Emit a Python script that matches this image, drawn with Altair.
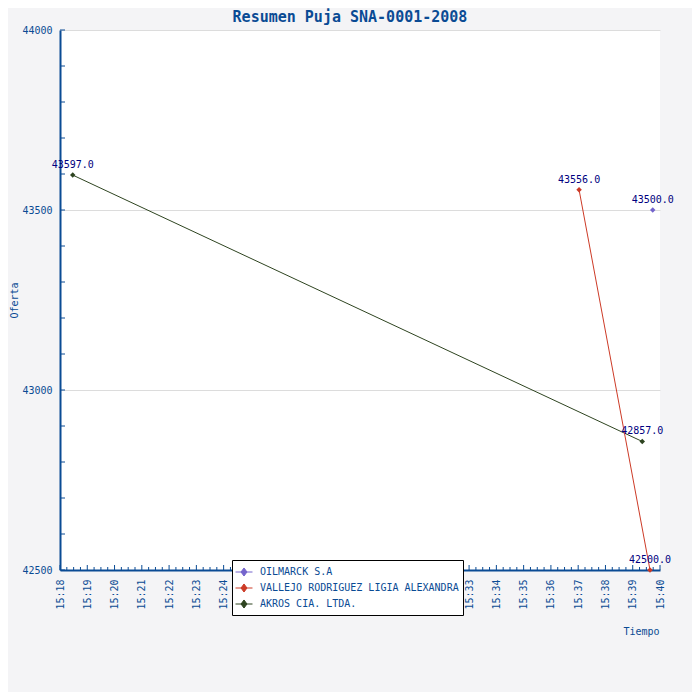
import altair as alt
import pandas as pd

# ---- data ----
bidders = ["OILMARCK S.A", "VALLEJO RODRIGUEZ LIGIA ALEXANDRA", "AKROS CIA. LTDA."]
bidder_colors = ["#7464cc", "#cc3a26", "#2e4420"]

bid_name = ["AKROS CIA. LTDA.", "AKROS CIA. LTDA.",
            "VALLEJO RODRIGUEZ LIGIA ALEXANDRA", "VALLEJO RODRIGUEZ LIGIA ALEXANDRA",
            "OILMARCK S.A"]
bid_time = ["15:18:28", "15:39:21", "15:37:02", "15:39:38", "15:39:44"]
bid_value = [43597.0, 42857.0, 43556.0, 42500.0, 43500.0]

x_tick_labels = ["15:18", "15:19", "15:20", "15:21", "15:22", "15:23", "15:24",
                 "15:25", "15:26", "15:27", "15:28", "15:29", "15:30", "15:31",
                 "15:32", "15:33", "15:34", "15:35", "15:36", "15:37", "15:38",
                 "15:39", "15:40"]
x_minor_seconds = [15, 30, 45]
y_tick_labels = [42500, 43000, 43500, 44000]
y_minor_step = 100

BLUE = "#0a4b94"
MONO = "DejaVu Sans Mono"


def to_min(t):
    parts = [int(p) for p in t.split(":")]
    h, m = parts[0], parts[1]
    s = parts[2] if len(parts) > 2 else 0
    return (h - 15) * 60 + m + s / 60.0


df = pd.DataFrame({"name": bid_name, "min": [to_min(t) for t in bid_time], "bid": bid_value})

major_x = [to_min(t) for t in x_tick_labels]
minor_x = [m + s / 60.0 for m in major_x[:-1] for s in x_minor_seconds]
df_xmaj = pd.DataFrame({"min": major_x})
df_xmin = pd.DataFrame({"min": minor_x})
df_y = pd.DataFrame({"bid": list(range(y_tick_labels[0], y_tick_labels[-1] + 1, y_minor_step))})

xscale = alt.Scale(domain=[major_x[0], major_x[-1]], nice=False, zero=False)
yscale = alt.Scale(domain=[y_tick_labels[0], y_tick_labels[-1]], nice=False, zero=False)
cscale = alt.Scale(domain=bidders, range=bidder_colors)

x_axis = alt.Axis(values=major_x, labelExpr="'15:' + format(datum.value, '02d')",
                  title="Tiempo", labelAngle=270, labelAlign="right", labelBaseline="middle",
                  labelPadding=9, titleX=581, titleY=61, titleAlign="center",
                  titleBaseline="middle", grid=False)
y_axis = alt.Axis(values=y_tick_labels, format="d", title="Oferta", grid=True,
                  labelPadding=8, titleX=-46, titleY=270, titleAlign="center",
                  titleBaseline="middle", titleAngle=270)

legend = alt.Legend(
    title=None, orient="none", legendX=172, legendY=530,
    symbolType="M-1.2,0H1.2M0,-0.57L0.42,0L0,0.57L-0.42,0Z",
    symbolSize=200, symbolStrokeWidth=1, symbolOpacity=1, labelLimit=0,
)

X = alt.X("min:Q", scale=xscale, axis=x_axis)
Y = alt.Y("bid:Q", scale=yscale, axis=y_axis)

base = alt.Chart(df)
lines = base.mark_line(strokeWidth=1).encode(
    x=X, y=Y, stroke=alt.Stroke("name:N", scale=cscale, legend=legend),
    detail="name:N", order="min:Q")
points = base.mark_point(shape="diamond", filled=True, size=30, opacity=1, strokeWidth=0).encode(
    x=X, y=Y,
    fill=alt.Fill("name:N", scale=cscale, legend=legend),
    stroke=alt.Stroke("name:N", scale=cscale, legend=legend))
labels = base.mark_text(dy=-10, font=MONO, fontSize=10, color="#000080").encode(
    x=X, y=Y, text=alt.Text("bid:Q", format=".1f"))

xmaj = alt.Chart(df_xmaj).mark_rule(color=BLUE, strokeWidth=1).encode(
    x=X, y=alt.value(540), y2=alt.value(535))
xmin = alt.Chart(df_xmin).mark_rule(color=BLUE, strokeWidth=1).encode(
    x=X, y=alt.value(540), y2=alt.value(537))
yt = alt.Chart(df_y).mark_rule(color=BLUE, strokeWidth=1).encode(
    y=Y, x=alt.value(0), x2=alt.value(5))

chart = alt.layer(lines, points, labels, xmaj, xmin, yt).properties(
    width=600, height=540,
    autosize=alt.AutoSizeParams(type="none"),
    padding={"left": 52, "top": 22, "right": 32, "bottom": 122},
    title=alt.TitleParams("Resumen Puja SNA-0001-2008", font=MONO, fontSize=15,
                          fontWeight="bold", color=BLUE, anchor="middle", frame="group",
                          baseline="middle", offset=18, dx=-10, dy=25),
    background="#f4f4f6",
).configure_view(fill="white", stroke=None).configure_axis(
    domainColor=BLUE, domainWidth=2, ticks=False, tickSize=0,
    labelColor=BLUE, labelFont=MONO, labelFontSize=10,
    titleColor=BLUE, titleFont=MONO, titleFontSize=10, titleFontWeight="normal",
    gridColor="#dcdcdc", gridWidth=1,
).configure_legend(
    fillColor="white", strokeColor="black", strokeWidth=1, padding=4, cornerRadius=0,
    labelFont=MONO, labelFontSize=10, labelColor=BLUE, rowPadding=1, labelOffset=8,
)

chart.save("out.html", embed_options={"renderer": "svg", "actions": False})
